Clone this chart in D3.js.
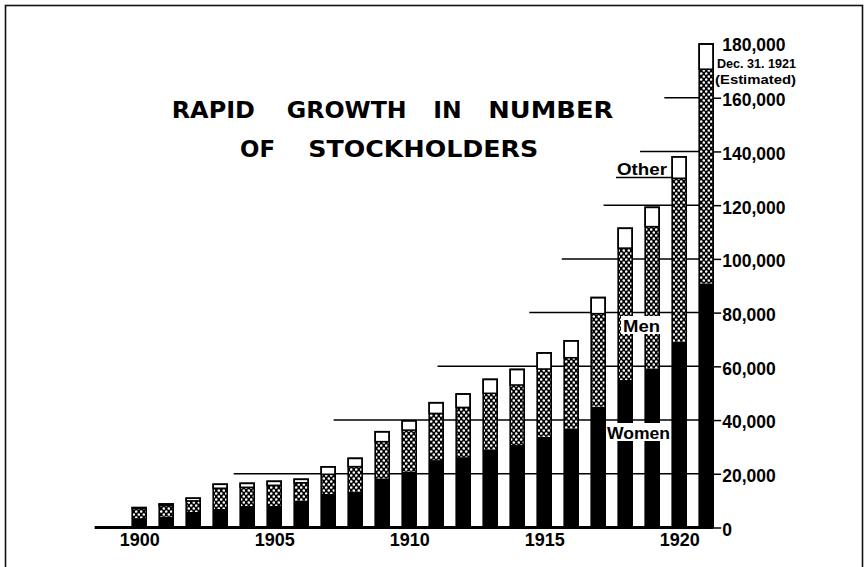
<!DOCTYPE html>
<html>
<head>
<meta charset="utf-8">
<script src="https://cdn.jsdelivr.net/npm/d3@7"></script>
<style>
  html, body { margin: 0; padding: 0; background: #fff; }
  svg { display: block; }
  text { font-family: "Liberation Sans", Arial, sans-serif; fill: #000; }
</style>
</head>
<body>
<svg id="chart" width="867" height="567"></svg>
<script>
// Stockholders at year end, split by class
const years  = [1900,1901,1902,1903,1904,1905,1906,1907,1908,1909,1910,1911,1912,1913,1914,1915,1916,1917,1918,1919,1920,1921];
const women  = [3500,4000,5800,6900,8000,8000,10000,12500,13300,18300,20800,25100,26200,29100,30700,33800,36900,45000,54900,59200,69200,90900];
const men    = [3500,4150,4100,7700,6950,7700,6650,7300,9350,13650,15450,17350,18500,20850,22350,25200,26300,34600,49100,52800,60800,79700];
const other  = [400,600,1000,1500,1500,1500,1300,2800,3100,3700,3500,4000,5000,5200,5800,6000,6300,6000,7400,7200,8000,9400];

// Value axis ticks and the year each guide line reaches back to
const yTicks     = [0,20000,40000,60000,80000,100000,120000,140000,160000,180000];
const guideFrom  = [null,1903.5,1907.2,1911.05,1914.45,1915.65,1917.2,1918.55,1919.45,null];
const yearLabels = [1900,1905,1910,1915,1920];

const svg = d3.select("#chart");

const x = d3.scaleLinear().domain([1900, 1921]).range([139.2, 706.2]);
const y = d3.scaleLinear().domain([0, 180000]).range([527.5, 44]);
const barW = 14;

// Cross-hatched fill used for the "Men" band
const defs = svg.append("defs");
const pat = defs.append("pattern")
  .attr("id", "hatch").attr("patternUnits", "userSpaceOnUse")
  .attr("width", 5).attr("height", 6);
pat.append("rect").attr("width", 5).attr("height", 6).attr("fill", "#000");
pat.append("circle").attr("cx", 1.25).attr("cy", 1.5).attr("r", 1.3).attr("fill", "#fff");
pat.append("circle").attr("cx", 3.75).attr("cy", 4.5).attr("r", 1.3).attr("fill", "#fff");

// Frame
svg.append("rect").attr("x", 5.5).attr("y", 5.5).attr("width", 857).attr("height", 575)
  .attr("fill", "none").attr("stroke", "#111").attr("stroke-width", 1.6);

// Title
const titleWords = [
  { t: "RAPID", x: 171.7, w: 83.3, line: 0 },
  { t: "GROWTH", x: 286.7, w: 120, line: 0 },
  { t: "IN", x: 433.3, w: 28.4, line: 0 },
  { t: "NUMBER", x: 488.3, w: 125, line: 0 },
  { t: "OF", x: 240, w: 35, line: 1 },
  { t: "STOCKHOLDERS", x: 308.3, w: 230, line: 1 }
];
svg.append("g").selectAll("text").data(titleWords).join("text")
  .attr("x", d => d.x).attr("y", d => d.line === 0 ? 118.3 : 156.7)
  .attr("textLength", d => d.w).attr("lengthAdjust", "spacingAndGlyphs")
  .style("font-family", "'DejaVu Sans', sans-serif")
  .style("font-weight", "bold").style("font-size", "23px")
  .text(d => d.t);

// Guide lines from the value axis
const grid = svg.append("g");
yTicks.forEach((v, i) => {
  if (guideFrom[i] === null) return;
  grid.append("line")
    .attr("x1", x(guideFrom[i])).attr("x2", x(1921) + barW / 2)
    .attr("y1", y(v)).attr("y2", y(v))
    .attr("stroke", "#000").attr("stroke-width", 1.5);
});

// Stacked bars
const rows = years.map((yr, i) => ({ yr, w: women[i], m: men[i], o: other[i] }));
const bars = svg.append("g").selectAll("g").data(rows).join("g");
bars.append("rect")
  .attr("x", d => x(d.yr) - barW / 2).attr("width", barW)
  .attr("y", d => y(d.w)).attr("height", d => y(0) - y(d.w))
  .attr("fill", "#000");
bars.append("rect")
  .attr("x", d => x(d.yr) - barW / 2).attr("width", barW)
  .attr("y", d => y(d.w + d.m)).attr("height", d => y(d.w) - y(d.w + d.m))
  .attr("fill", "url(#hatch)");
bars.append("rect")
  .attr("x", d => x(d.yr) - barW / 2).attr("width", barW)
  .attr("y", d => y(d.w + d.m + d.o)).attr("height", d => y(d.w + d.m) - y(d.w + d.m + d.o))
  .attr("fill", "#fff").attr("stroke", "#000").attr("stroke-width", 1.6);
bars.append("rect")
  .attr("x", d => x(d.yr) - barW / 2).attr("width", barW)
  .attr("y", d => y(d.w + d.m + d.o)).attr("height", d => y(0) - y(d.w + d.m + d.o))
  .attr("fill", "none").attr("stroke", "#000").attr("stroke-width", 1.6);

// Base line
svg.append("line")
  .attr("x1", x(1898.35)).attr("x2", x(1921) + barW / 2)
  .attr("y1", y(0)).attr("y2", y(0))
  .attr("stroke", "#000").attr("stroke-width", 2.8);

// Value axis on the right
const yAxis = svg.append("g")
  .attr("transform", `translate(${x(1921) + barW / 2},0)`)
  .call(d3.axisRight(y).tickValues(yTicks).tickSize(8).tickPadding(1)
    .tickFormat(d3.format(",")));
yAxis.select(".domain").remove();
yAxis.selectAll(".tick line").attr("stroke", "#000").attr("stroke-width", 1.5)
  .attr("display", d => d === 180000 ? "none" : null);
yAxis.selectAll(".tick text")
  .attr("dy", d => d === 180000 ? "0.36em" : "0.45em")
  .style("font-family", "'Liberation Sans', Arial, sans-serif")
  .style("font-weight", "bold").style("font-size", "17.5px").attr("fill", "#000");

// Year axis
const xAxis = svg.append("g")
  .attr("transform", `translate(0,${y(0)})`)
  .call(d3.axisBottom(x).tickValues(yearLabels).tickSize(0).tickPadding(6)
    .tickFormat(d3.format("d")));
xAxis.select(".domain").remove();
xAxis.selectAll(".tick text")
  .style("font-family", "'Liberation Sans', Arial, sans-serif")
  .style("font-weight", "bold").style("font-size", "18px").attr("fill", "#000");

// Note on the last bar
const note = svg.append("g").style("font-family", "'Liberation Sans', Arial, sans-serif")
  .style("font-weight", "bold").style("font-size", "12px");
note.append("text").attr("x", 717).attr("y", 68).attr("textLength", 79)
  .attr("lengthAdjust", "spacingAndGlyphs").text("Dec. 31. 1921");
note.append("text").attr("x", 715).attr("y", 84).attr("textLength", 81)
  .attr("lengthAdjust", "spacingAndGlyphs").text("(Estimated)");

// Series labels
const labels = svg.append("g").style("font-family", "'Liberation Sans', Arial, sans-serif")
  .style("font-weight", "bold").style("font-size", "16px");
labels.append("text").attr("x", 617).attr("y", 175).attr("textLength", 50)
  .attr("lengthAdjust", "spacingAndGlyphs").text("Other");
labels.append("line").attr("x1", 616).attr("x2", 673).attr("y1", 177.5).attr("y2", 177.5)
  .attr("stroke", "#000").attr("stroke-width", 1.3);

labels.append("rect").attr("x", 621).attr("y", 316).attr("width", 41).attr("height", 18).attr("fill", "#fff");
labels.append("text").attr("x", 623).attr("y", 332).attr("textLength", 37)
  .attr("lengthAdjust", "spacingAndGlyphs").text("Men");

labels.append("rect").attr("x", 606).attr("y", 423).attr("width", 65).attr("height", 18).attr("fill", "#fff");
labels.append("text").attr("x", 607).attr("y", 439).attr("textLength", 63)
  .attr("lengthAdjust", "spacingAndGlyphs").text("Women");
</script>
</body>
</html>
